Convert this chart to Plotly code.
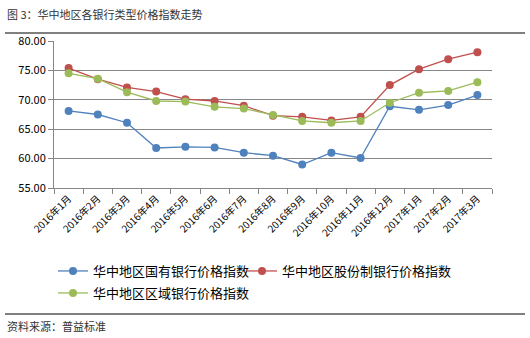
import plotly.graph_objects as go

months = ["2016年1月", "2016年2月", "2016年3月", "2016年4月", "2016年5月", "2016年6月",
          "2016年7月", "2016年8月", "2016年9月", "2016年10月", "2016年11月", "2016年12月",
          "2017年1月", "2017年2月", "2017年3月"]
state_owned = [68.1, 67.5, 66.1, 61.8, 62.0, 61.9, 61.0, 60.5, 59.0, 61.0, 60.1, 68.9, 68.3, 69.1, 70.8]
joint_stock = [75.4, 73.5, 72.1, 71.4, 70.1, 69.8, 69.0, 67.3, 67.1, 66.5, 67.1, 72.5, 75.2, 76.9, 78.1]
regional = [74.5, 73.6, 71.3, 69.8, 69.7, 68.8, 68.5, 67.4, 66.4, 66.1, 66.4, 69.5, 71.2, 71.5, 73.0]

names = ["华中地区国有银行价格指数", "华中地区股份制银行价格指数", "华中地区区域银行价格指数"]
colors = ["#4F81BD", "#C0504D", "#9BBB59"]
legends = ["legend", "legend3", "legend2"]

FONT = "Noto Sans CJK SC, sans-serif"

L, R, T, B = 54, 38, 41, 150
PW, PH = 530 - L - R, 338 - T - B


def py(ypix):
    return (338 - B - ypix) / PH


def px(xpix):
    return (xpix - L) / PW


fig = go.Figure()
for vals, name, c, lg in zip([state_owned, joint_stock, regional], names, colors, legends):
    fig.add_trace(go.Scatter(x=months, y=vals, name=name, mode="lines+markers",
                             line=dict(color=c, width=1.3),
                             marker=dict(color=c, size=8), legend=lg))

legend_common = dict(orientation="h", xanchor="left", yanchor="middle",
                     font=dict(size=13, family=FONT), tracegroupgap=0,
                     itemwidth=30, bgcolor="rgba(0,0,0,0)", borderwidth=0)

fig.update_layout(
    width=530, height=338,
    margin=dict(l=L, r=R, t=T, b=B, autoexpand=False),
    paper_bgcolor="white", plot_bgcolor="white",
    font=dict(family=FONT, color="#000000"),
    showlegend=True,
    legend=dict(x=px(53), y=py(271), **legend_common),
    legend3=dict(x=px(242), y=py(271), **legend_common),
    legend2=dict(x=px(53), y=py(293), **legend_common),
    xaxis=dict(type="category", tickangle=-45, tickfont=dict(size=10, family=FONT),
               showline=True, linecolor="#868686", linewidth=1,
               ticks="outside", tickson="boundaries", ticklen=5, tickcolor="#868686",
               showgrid=False, range=[-0.5, 14.5], automargin=False),
    yaxis=dict(range=[55, 80], dtick=5, tickformat=".2f", tickfont=dict(size=11, family=FONT),
               showline=True, linecolor="#868686", linewidth=1,
               ticks="outside", ticklen=5, tickcolor="#868686",
               showgrid=True, gridcolor="#868686", gridwidth=1, zeroline=False,
               automargin=False),
)

fig.add_annotation(xref="paper", yref="paper", x=px(5), y=py(14),
                   text="图 3：华中地区各银行类型价格指数走势", showarrow=False,
                   xanchor="left", yanchor="middle", font=dict(size=11, family=FONT, color="#333333"))
fig.add_annotation(xref="paper", yref="paper", x=px(5), y=py(326),
                   text="资料来源：普益标准", showarrow=False,
                   xanchor="left", yanchor="middle", font=dict(size=11, family=FONT, color="#333333"))

fig.add_shape(type="line", xref="paper", yref="paper", x0=px(5), x1=px(525), y0=py(33), y1=py(33),
              line=dict(color="black", width=1))
fig.add_shape(type="line", xref="paper", yref="paper", x0=px(5), x1=px(525), y0=py(314), y1=py(314),
              line=dict(color="black", width=1))

fig.write_html("out.html")
